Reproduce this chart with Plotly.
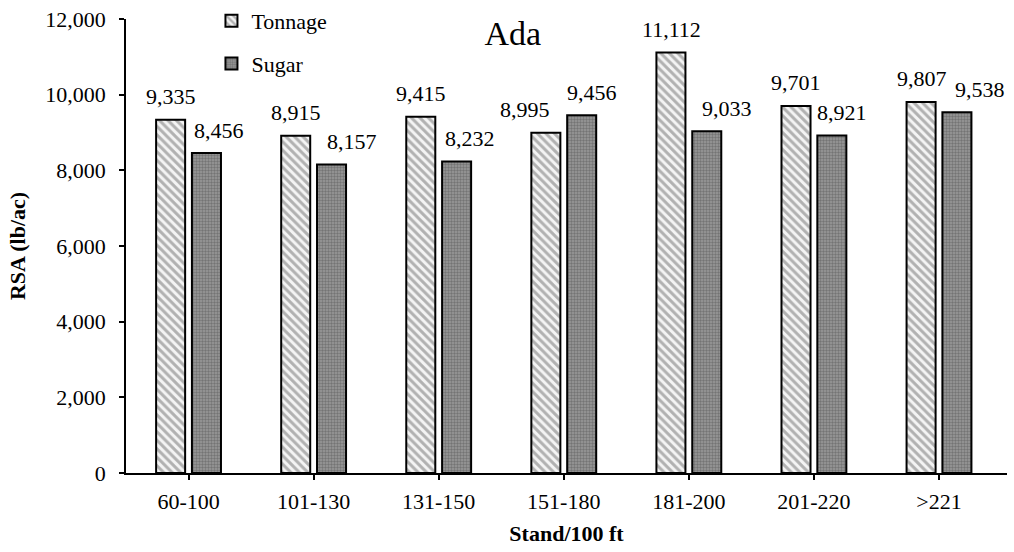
import plotly.graph_objects as go

categories = ["60-100", "101-130", "131-150", "151-180", "181-200", "201-220", ">221"]
tonnage = [9335, 8915, 9415, 8995, 11112, 9701, 9807]
sugar = [8456, 8157, 8232, 9456, 9033, 8921, 9538]
y_ticks = [0, 2000, 4000, 6000, 8000, 10000, 12000]

# label nudges (pixels) mimicking manually placed data labels
ton_label_dx = [0, 0, 0, -21, 0, 0, 0]
sug_label_dx = [12, 20, 13, 10, 20, 10, 23]

FONT = "Liberation Serif"
FS = 22

fig = go.Figure()
fig.add_trace(go.Bar(
    x=categories, y=tonnage, name="Tonnage", legendgroup="a",
    marker=dict(color="white", line=dict(color="black", width=2),
                pattern=dict(shape="\\", fgcolor="#6e6e6e", bgcolor="#f4f4f4",
                             size=6, solidity=0.5)),
))
fig.add_trace(go.Bar(
    x=categories, y=sugar, name="Sugar", legendgroup="b",
    marker=dict(color="#888888", line=dict(color="black", width=2),
                pattern=dict(shape=".", fgcolor="#4e4e4e", bgcolor="#9a9a9a",
                             size=3, solidity=0.5)),
))

for i, c in enumerate(categories):
    fig.add_annotation(x=c, y=tonnage[i], text=f"{tonnage[i]:,}", showarrow=False,
                       xref="x", yref="y", xanchor="center", yanchor="middle",
                       xshift=-17.5 + ton_label_dx[i], yshift=23,
                       font=dict(family=FONT, size=FS, color="black"))
    fig.add_annotation(x=c, y=sugar[i], text=f"{sugar[i]:,}", showarrow=False,
                       xref="x", yref="y", xanchor="center", yanchor="middle",
                       xshift=18 + sug_label_dx[i], yshift=23,
                       font=dict(family=FONT, size=FS, color="black"))

fig.update_layout(
    width=1014, height=552,
    margin=dict(l=126, r=7, t=19, b=79, autoexpand=False),
    paper_bgcolor="white", plot_bgcolor="white",
    barmode="group", bargap=0.427, bargroupgap=0.19,
    font=dict(family=FONT, size=FS, color="black"),
    title=dict(text="Ada", x=0.439, xref="paper", xanchor="center",
               y=1 - 33 / 552, yref="container", yanchor="middle",
               font=dict(family=FONT, size=34, color="black")),
    legend=dict(x=0.097, y=1.007, xanchor="left", yanchor="top", yref="container",
                bgcolor="rgba(0,0,0,0)", tracegroupgap=11,
                font=dict(family=FONT, size=FS, color="black"),
                itemwidth=30),
    xaxis=dict(showline=True, linecolor="black", linewidth=1.5,
               ticks="outside", ticklen=5, tickcolor="black", tickwidth=1.5,
               ticklabelstandoff=3,
               tickfont=dict(family=FONT, size=FS),
               title=dict(text="<b>Stand/100 ft</b>", standoff=12,
                          font=dict(family=FONT, size=FS)),
               showgrid=False, zeroline=False),
    yaxis=dict(range=[0, 12000], tickvals=y_ticks, tickformat=",",
               showline=True, linecolor="black", linewidth=1.5,
               ticks="outside", ticklen=5, tickcolor="black", tickwidth=1.5,
               ticklabelstandoff=9,
               tickfont=dict(family=FONT, size=FS),
               title=dict(text="<b>RSA (lb/ac)</b>", standoff=14,
                          font=dict(family=FONT, size=FS)),
               showgrid=False, zeroline=False),
)

fig.write_html("out.html")
